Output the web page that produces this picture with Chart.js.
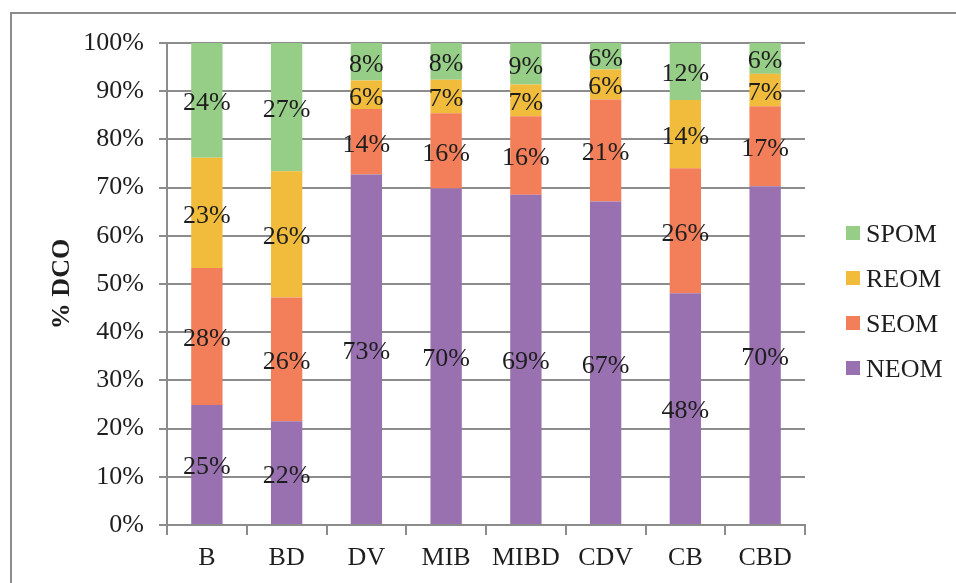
<!DOCTYPE html>
<html>
<head>
<meta charset="utf-8">
<title>% DCO</title>
<script src="https://cdn.jsdelivr.net/npm/chart.js@4/dist/chart.umd.min.js"></script>
<style>
    body { margin: 0; background: #ffffff; overflow: hidden; }
    #frame {
        position: absolute; left: 10px; top: 12px;
        width: 1000px; height: 640px;
        border: 2px solid #8c8c8c;
    }
    #dcoChart { position: absolute; left: 0; top: 0; }
</style>
</head>
<body>
<div id="frame"></div>
<canvas id="dcoChart" width="956" height="583"></canvas>
<script>
// chart values (% of DCO)
const categories = ["B", "BD", "DV", "MIB", "MIBD", "CDV", "CB", "CBD"];
const neom = [24.9, 21.5, 72.7, 69.8, 68.5, 67.1, 48.1, 70.3];
const seom = [28.4, 25.7, 13.6, 15.6, 16.3, 21.2, 25.9, 16.6];
const reom = [22.9, 26.2, 5.9, 7.0, 6.6, 6.2, 14.2, 6.7];
const spom = [23.8, 26.6, 7.8, 7.6, 8.6, 5.5, 11.8, 6.4];
const yTicks = [0, 10, 20, 30, 40, 50, 60, 70, 80, 90, 100];

const serif = "'Liberation Serif', 'Times New Roman', serif";
const gridGrey = "#8c8c8c";
const textColor = "#1e1e1e";

document.addEventListener("DOMContentLoaded", function () {
    // value labels in the middle of each segment
    const segmentLabels = {
        id: "segmentLabels",
        afterDatasetsDraw: function (chart) {
            const ctx = chart.ctx;
            ctx.save();
            ctx.font = "26px " + serif;
            ctx.fillStyle = textColor;
            ctx.textAlign = "center";
            ctx.textBaseline = "middle";
            chart.data.datasets.forEach(function (ds, i) {
                chart.getDatasetMeta(i).data.forEach(function (bar, j) {
                    const y = (bar.y + bar.base) / 2 + 3;
                    ctx.fillText(Math.round(ds.data[j]) + "%", bar.x, y);
                });
            });
            ctx.restore();
        }
    };

    // legend on the right, top item is the top of the stack
    const sideLegend = {
        id: "sideLegend",
        afterDraw: function (chart) {
            const ctx = chart.ctx;
            const items = chart.data.datasets.slice().reverse();
            ctx.save();
            ctx.font = "26px " + serif;
            ctx.textAlign = "left";
            ctx.textBaseline = "middle";
            items.forEach(function (ds, k) {
                const yc = 233 + k * 45;
                ctx.fillStyle = ds.backgroundColor;
                ctx.fillRect(846, yc - 7, 14, 14);
                ctx.fillStyle = textColor;
                ctx.fillText(ds.label, 866, yc + 2);
            });
            ctx.restore();
        }
    };

    new Chart(document.getElementById("dcoChart").getContext("2d"), {
        type: "bar",
        data: {
            labels: categories,
            datasets: [
                { label: "NEOM", data: neom, backgroundColor: "#9971b1" },
                { label: "SEOM", data: seom, backgroundColor: "#f27f59" },
                { label: "REOM", data: reom, backgroundColor: "#f1bc3c" },
                { label: "SPOM", data: spom, backgroundColor: "#96cd87" }
            ]
        },
        options: {
            responsive: false,
            animation: false,
            layout: { padding: { left: 47, top: 43, right: 151, bottom: 0 } },
            datasets: { bar: { categoryPercentage: 1, barPercentage: 0.393 } },
            plugins: {
                legend: { display: false },
                tooltip: { enabled: false }
            },
            scales: {
                x: {
                    stacked: true,
                    grid: { drawOnChartArea: false, drawTicks: true, tickLength: 10, color: gridGrey, lineWidth: 2 },
                    border: { color: gridGrey, width: 2 },
                    ticks: { color: textColor, font: { family: serif, size: 26 }, padding: 8 },
                    afterFit: function (scale) { scale.height = 58; }
                },
                y: {
                    stacked: true,
                    min: 0,
                    max: 100,
                    afterBuildTicks: function (scale) {
                        scale.ticks = yTicks.map(function (v) { return { value: v }; });
                    },
                    grid: { color: gridGrey, lineWidth: 2, tickLength: 8 },
                    border: { color: gridGrey, width: 2 },
                    ticks: {
                        color: textColor,
                        font: { family: serif, size: 26 },
                        padding: 15,
                        callback: function (v) { return v + "%"; }
                    },
                    title: {
                        display: true,
                        text: "% DCO",
                        color: textColor,
                        font: { family: serif, size: 26, weight: "bold" },
                        padding: 0
                    },
                    afterFit: function (scale) { scale.width = 120; }
                }
            }
        },
        plugins: [segmentLabels, sideLegend]
    });
});
</script>
</body>
</html>
